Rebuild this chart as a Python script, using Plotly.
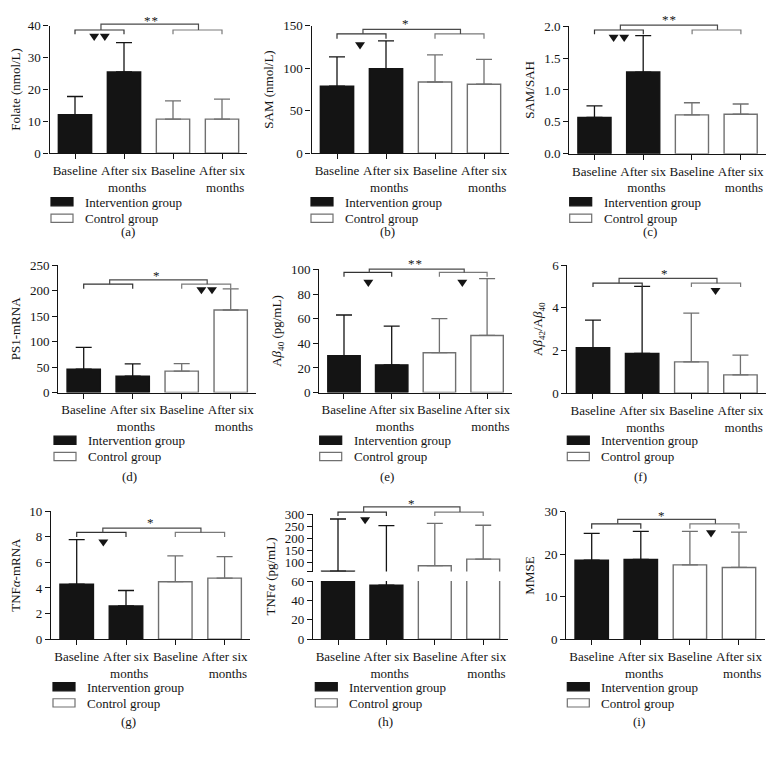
import plotly.graph_objects as go

W, H = 774, 762          # target picture size
OFF = 8                  # page body margin in the browser
FIG_W, FIG_H = W - 2 * OFF, H - 2 * OFF   # keeps the page free of scrolling
FONT = "Liberation Serif"
INK = "#141414"
GRAY = "#707070"

# ---------------- data ----------------
categories = ["Baseline", "After six<br>\u00a0\u00a0months", "Baseline", "After six<br>\u00a0\u00a0months"]
groups = ["Intervention group", "Control group"]

folate_mean = [12.1, 25.5, 10.7, 10.7]
folate_sd = [5.7, 9.2, 5.7, 6.3]
sam_mean = [78.8, 99.6, 83.8, 81.2]
sam_sd = [34.7, 32.7, 32.0, 29.2]
samsah_mean = [0.57, 1.28, 0.61, 0.62]
samsah_sd = [0.18, 0.57, 0.19, 0.16]
ps1_mean = [46.0, 32.0, 42.0, 162.0]
ps1_sd = [42.5, 24.4, 14.7, 41.6]
ab40_mean = [30.0, 22.5, 32.4, 46.4]
ab40_sd = [33.0, 31.5, 27.6, 46.2]
abratio_mean = [2.13, 1.87, 1.47, 0.86]
abratio_sd = [1.30, 3.14, 2.28, 0.93]
tnfmrna_mean = [4.29, 2.60, 4.49, 4.77]
tnfmrna_sd = [3.49, 1.20, 2.01, 1.68]
tnf_mean = [64.0, 55.7, 86.5, 114.0]
tnf_sd = [217.0, 198.0, 176.5, 141.0]
mmse_mean = [18.6, 18.8, 17.5, 16.9]
mmse_sd = [6.3, 6.6, 7.9, 8.3]

folate_ticks = [0, 10, 20, 30, 40]
sam_ticks = [0, 50, 100, 150]
samsah_ticks = [0.0, 0.5, 1.0, 1.5, 2.0]
ps1_ticks = [0, 50, 100, 150, 200, 250]
ab40_ticks = [0, 20, 40, 60, 80, 100]
abratio_ticks = [0, 2, 4, 6]
tnfmrna_ticks = [0, 2, 4, 6, 8, 10]
tnf_ticks_low = [0, 20, 40, 60]
tnf_ticks_high = [100, 150, 200, 250, 300]
tnf_break = 62          # where the upper part of the broken TNFα axis starts
mmse_ticks = [0, 10, 20, 30]

# ---------------- layout geometry (pixels of the target picture) ----------------
def seg(top, bot, lo, hi, ticks, fmt="{:g}", minor=None):
    return dict(top=top, bot=bot, lo=lo, hi=hi, ticks=ticks, minor=minor,
                labels=[fmt.format(t) for t in ticks])

ROW_LEG = {1: (198.5, 215.5), 2: (442.0, 458.5), 3: (693.5, 710.0)}
ROW_LAB = {1: 229, 2: 479, 3: 729}

panels = [
    dict(tag="(a)", row=1, ytitle="Folate (nmol/L)", mean=folate_mean, sd=folate_sd,
         segs=[seg(19, 149, 0, 40, folate_ticks)], c0=75, sp=49,
         line=17.3, br=23.3, end=27.7, star="*\u200a*", star_x=1.55, star_y=11.7,
         tri=[(0.5, 30.7, 2)], leg_x=83, lab_x=128),
    dict(tag="(b)", row=1, ytitle="SAM (nmol/L)", mean=sam_mean, sd=sam_sd,
         segs=[seg(19, 149, 0, 150, sam_ticks)], c0=337, sp=49,
         line=22.7, br=27.3, end=32.3, star="*", star_x=1.4, star_y=15,
         tri=[(0.47, 39.3, 1)], leg_x=343, lab_x=387),
    dict(tag="(c)", row=1, ytitle="SAM/SAH", mean=samsah_mean, sd=samsah_sd,
         segs=[seg(19.3, 149.7, 0, 2.0, samsah_ticks, "{:.1f}")], c0=594.5, sp=48.8,
         line=18.3, br=23.3, end=27.7, star="*\u200a*", star_x=1.53, star_y=10.7,
         tri=[(0.5, 31.7, 2)], leg_x=601.7, lab_x=650),
    dict(tag="(d)", row=2, ytitle="PS1-mRNA", mean=ps1_mean, sd=ps1_sd,
         segs=[seg(263.3, 393.3, 0, 250, ps1_ticks)], c0=83.7, sp=49,
         line=278.3, br=282.7, end=287.3, star="*", star_x=1.48, star_y=271.7,
         tri=[(2.51, 289.3, 2)], leg_x=86, lab_x=129),
    dict(tag="(e)", row=2, ytitle="A<i>β</i><sub>40</sub> (pg/mL)", mean=ab40_mean, sd=ab40_sd,
         segs=[seg(267.7, 393.3, 0, 100, ab40_ticks)], c0=344, sp=47.7,
         line=267.3, br=270.7, end=275, star="*\u200a*", star_x=1.49, star_y=260,
         tri=[(0.51, 281.7, 1), (2.48, 281.7, 1)], leg_x=351.7, lab_x=387),
    dict(tag="(f)", row=2, ytitle="A<i>β</i><sub>42</sub>/A<i>β</i><sub>40</sub>",
         mean=abratio_mean, sd=abratio_sd,
         segs=[seg(263.3, 394, 0, 6, abratio_ticks)], c0=593, sp=49.2,
         line=276.7, br=281.7, end=285.7, star="*", star_x=1.45, star_y=270,
         tri=[(2.49, 290, 1)], leg_x=599.3, lab_x=640),
    dict(tag="(g)", row=3, ytitle="TNF<i>α</i>-mRNA", mean=tnfmrna_mean, sd=tnfmrna_sd,
         segs=[seg(514.3, 645, 0, 10, tnfmrna_ticks)], c0=76.7, sp=49.3,
         line=531.7, br=536, end=540.7, star="*", star_x=1.49, star_y=524,
         tri=[(0.54, 546.7, 1)], leg_x=85, lab_x=128),
    dict(tag="(h)", row=3, ytitle="TNF<i>α</i> (pg/mL)", mean=tnf_mean, sd=tnf_sd,
         segs=[seg(585.7, 645, 0, 60, tnf_ticks_low),
               seg(517.7, 576, tnf_break, 300, tnf_ticks_high, minor=[tnf_break])],
         c0=338, sp=48.4, title_px=(270, 581),
         line=510, br=515.3, end=519.3, star="*", star_x=1.52, star_y=505,
         tri=[(0.56, 524, 1)], leg_x=347.3, lab_x=385),
    dict(tag="(i)", row=3, ytitle="MMSE", mean=mmse_mean, sd=mmse_sd,
         segs=[seg(515, 645, 0, 30, mmse_ticks)], c0=591.7, sp=49.1,
         line=522.7, br=527.3, end=532.3, star="*", star_x=1.43, star_y=516.7,
         tri=[(2.43, 537.3, 1)], leg_x=599.3, lab_x=639),
]

R0, R1 = -0.52, 3.52
BAR_W = 0.68


def fx(px):
    return (px - OFF) / FIG_W


def fy(py):
    return 1 - (py - OFF) / FIG_H


def clamp(v):
    return min(1.0, max(0.0, v))


def tfont(size=13):
    return dict(family=FONT, size=size, color=INK)


def axis_style():
    return dict(showline=True, linecolor=INK, linewidth=1.2, ticks="outside", ticklen=5,
                tickwidth=1.2, tickcolor=INK, showgrid=False, zeroline=False,
                tickfont=tfont(13), fixedrange=True)


def rect(x0, y0, x1, y1, fill, edge):
    return dict(type="rect", xref="paper", yref="paper", x0=fx(x0), x1=fx(x1),
                y0=fy(y1), y1=fy(y0), fillcolor=fill, line=dict(color=edge, width=1.2))


fig = go.Figure()
shapes, annotations = [], []
layout = dict(width=FIG_W, height=FIG_H, margin=dict(l=0, r=0, t=0, b=0, pad=0),
              paper_bgcolor="white", plot_bgcolor="rgba(0,0,0,0)", barmode="overlay",
              showlegend=False)

extra_y = 10
for i, p in enumerate(panels, start=1):
    sx = "" if i == 1 else str(i)
    xid = "x" + sx
    left = p["c0"] + R0 * p["sp"]
    right = p["c0"] + R1 * p["sp"]
    lower_yid = "y" + sx
    layout["xaxis" + sx] = dict(axis_style(), domain=[clamp(fx(left)), clamp(fx(right))],
                                range=[R0, R1], anchor=lower_yid,
                                tickvals=[0, 1, 2, 3], ticktext=categories)
    for k, s in enumerate(p["segs"]):
        if k == 0:
            ynum = sx
        else:
            ynum = str(extra_y)
            extra_y += 1
        yid = "y" + ynum
        yax = dict(axis_style(), domain=[clamp(fy(s["bot"])), clamp(fy(s["top"]))],
                   range=[s["lo"], s["hi"]], anchor=xid,
                   tickvals=s["ticks"], ticktext=s["labels"])
        if s["minor"]:
            yax["minor"] = dict(tickvals=s["minor"], ticks="outside", ticklen=5,
                                tickwidth=1.2, tickcolor=INK, showgrid=False)
        if len(p["segs"]) == 1:
            yax["title"] = dict(text=p["ytitle"], font=tfont(13), standoff=6)
        layout["yaxis" + ynum] = yax
        for g, (idx, fill, edge) in enumerate([([0, 1], INK, INK), ([2, 3], "white", GRAY)]):
            fig.add_trace(go.Bar(
                x=idx, y=[p["mean"][j] for j in idx], xaxis=xid, yaxis=yid,
                width=BAR_W, name=groups[g],
                marker=dict(color=fill, line=dict(color=edge, width=1.4)),
                error_y=dict(type="data", symmetric=False,
                             array=[p["sd"][j] for j in idx], arrayminus=[0, 0],
                             color=edge, thickness=1.3, width=8),
                hoverinfo="skip"))
    if len(p["segs"]) > 1:
        tx, ty = p["title_px"]
        annotations.append(dict(text=p["ytitle"], x=fx(tx), y=fy(ty), xref="paper", yref="paper",
                                showarrow=False, textangle=-90, font=tfont(13),
                                xanchor="center", yanchor="middle"))

    # key under each panel
    lx = p["leg_x"]
    for g, (fill, edge) in enumerate([(INK, INK), ("white", GRAY)]):
        cy = ROW_LEG[p["row"]][g]
        shapes.append(rect(lx - 32, cy - 4.2, lx - 10, cy + 4.2, fill, edge))
        annotations.append(dict(text=groups[g], x=fx(lx), y=fy(cy + 0.5), xref="paper",
                                yref="paper", showarrow=False, font=tfont(13),
                                xanchor="left", yanchor="middle"))

    # significance brackets
    def cx(c, p=p):
        return fx(p["c0"] + c * p["sp"])
    yl, yb, ye = fy(p["line"]), fy(p["br"]), fy(p["end"])
    shapes.append(dict(type="path", xref="paper", yref="paper",
                       path=f"M{cx(0)},{ye} V{yb} H{cx(1)} V{ye}",
                       line=dict(color="#333333", width=1.2)))
    shapes.append(dict(type="path", xref="paper", yref="paper",
                       path=f"M{cx(2)},{ye} V{yb} H{cx(3)} V{ye}",
                       line=dict(color="#7a7a7a", width=1.2)))
    shapes.append(dict(type="path", xref="paper", yref="paper",
                       path=f"M{cx(0.53)},{yb} V{yl} H{cx(2.52)} V{yb}",
                       line=dict(color="#4a4a4a", width=1.2)))
    annotations.append(dict(text=p["star"], x=cx(p["star_x"]), y=fy(p["star_y"] + 2),
                            xref="paper", yref="paper", showarrow=False, font=tfont(13),
                            xanchor="center", yanchor="middle"))
    # triangles
    for (tc, typ, n) in p["tri"]:
        cpx = p["c0"] + tc * p["sp"]
        centers = [cpx - 5.3, cpx + 5.3] if n == 2 else [cpx]
        for c in centers:
            shapes.append(dict(type="path", xref="paper", yref="paper",
                               path=(f"M{fx(c - 5)},{fy(typ - 3.5)} H{fx(c + 5)} "
                                     f"L{fx(c)},{fy(typ + 3.8)} Z"),
                               fillcolor=INK, line=dict(width=0)))
    # panel label
    annotations.append(dict(text=p["tag"], x=fx(p["lab_x"]), y=fy(ROW_LAB[p["row"]]),
                            xref="paper", yref="paper", showarrow=False, font=tfont(13),
                            xanchor="center", yanchor="middle"))

layout["shapes"] = shapes
layout["annotations"] = annotations
fig.update_layout(**layout)
fig.write_html("out.html")
